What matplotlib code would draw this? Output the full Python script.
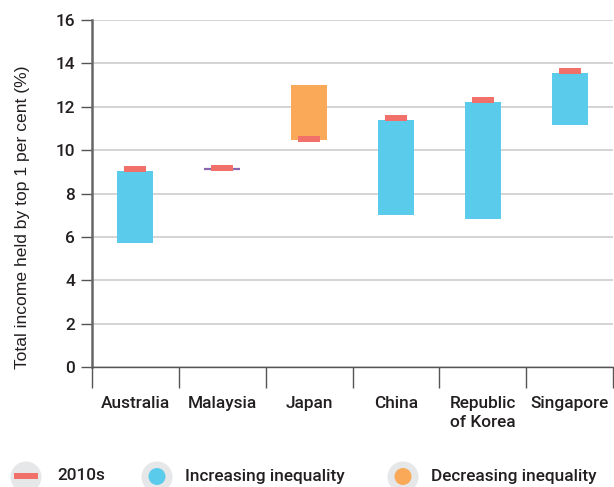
import matplotlib
matplotlib.use("Agg")
import matplotlib.pyplot as plt
from matplotlib.patches import Circle, Rectangle

countries = ["Australia", "Malaysia", "Japan", "China", "Republic\nof Korea", "Singapore"]
start_vals = [5.70, 9.12, 13.02, 7.03, 6.83, 11.17]
end_vals = [9.05, 9.12, 10.45, 11.40, 12.23, 13.57]
marker_2010s = [9.12, 9.17, 10.52, 11.48, 12.30, 13.65]
trend = ["inc", "flat", "dec", "inc", "inc", "inc"]
yticks = [0, 2, 4, 6, 8, 10, 12, 14, 16]

BLUE = "#5BCBEB"
ORANGE = "#F9A957"
RED = "#F2706A"
PURPLE = "#8A66AE"
GRID = "#D4D4D4"
TXT = "#231F20"
FS = 12.4
FW = "medium"

plt.rcParams["font.family"] = ["Roboto", "DejaVu Sans"]
plt.rcParams["font.weight"] = FW

W, H = 614, 487
fig = plt.figure(figsize=(W / 100, H / 100), dpi=100)
ax = fig.add_axes([92 / W, (H - 367) / H, (613 - 92) / W, (367 - 20) / H])

xs = [i + 0.5 for i in range(len(countries))]
bw = 0.415
for x, s, e, m, t in zip(xs, start_vals, end_vals, marker_2010s, trend):
    lo, hi = min(s, e), max(s, e)
    if t == "flat":
        ax.hlines(s, x - bw / 2, x + bw / 2, color=PURPLE, lw=1.6, zorder=3)
    else:
        ax.bar(x, hi - lo, bottom=lo, width=bw, color=BLUE if t == "inc" else ORANGE, zorder=3)
    ax.bar(x, 0.27, bottom=m - 0.135, width=0.255, color=RED, zorder=4)

ax.set_xlim(0, 6)
ax.set_ylim(0, 16)
ax.set_yticks(yticks)
ax.set_yticklabels([str(v) for v in yticks], fontsize=FS, color=TXT, fontweight=FW)
ax.yaxis.grid(True, color=GRID, lw=1.4, zorder=0)
ax.set_axisbelow(True)
ax.tick_params(axis="y", length=8, width=1, color="#555555", pad=4)

ax.set_xticks(range(0, 7), minor=True)
ax.set_xticks(xs)
ax.set_xticklabels(countries, fontsize=FS, color=TXT, linespacing=1.3, ha="center", va="top",
                   fontweight=FW)
ax.tick_params(axis="x", which="major", length=0, pad=21)
ax.tick_params(axis="x", which="minor", length=15, width=1, color="#555555")

for sp in ["top", "right"]:
    ax.spines[sp].set_visible(False)
ax.spines["left"].set_color("#666666")
ax.spines["left"].set_linewidth(1.8)
ax.spines["bottom"].set_color("#555555")
ax.spines["bottom"].set_linewidth(1.0)

ax.set_ylabel("Total income held by top 1 per cent (%)", fontsize=12.6, color=TXT,
              fontweight="normal", family=["Liberation Sans", "DejaVu Sans"])
ax.yaxis.set_label_coords(-0.119, 0.432)

# legend overlay in pixel coordinates
lg = fig.add_axes([0, 0, 1, 1], zorder=5)
lg.set_xlim(0, W)
lg.set_ylim(H, 0)
lg.axis("off")
lg.patch.set_alpha(0)
CG = "#E6E7E8"
cy = 476
for cx in [26, 157, 403]:
    lg.add_patch(Circle((cx, cy + 1), 15.5, color=CG, lw=0))
lg.add_patch(Rectangle((14, cy - 3), 24, 6, color=RED, lw=0))
lg.add_patch(Circle((157, cy + 0.5), 8.5, color=BLUE, lw=0))
lg.add_patch(Circle((403, cy + 0.5), 8.5, color=ORANGE, lw=0))
lg.text(57, cy, "2010s", fontsize=FS, color=TXT, va="center", ha="left", fontweight=FW)
lg.text(185, cy, "Increasing inequality", fontsize=FS, color=TXT, va="center", ha="left", fontweight=FW)
lg.text(431, cy, "Decreasing inequality", fontsize=FS, color=TXT, va="center", ha="left", fontweight=FW)

fig.savefig("out.png", dpi=100)
